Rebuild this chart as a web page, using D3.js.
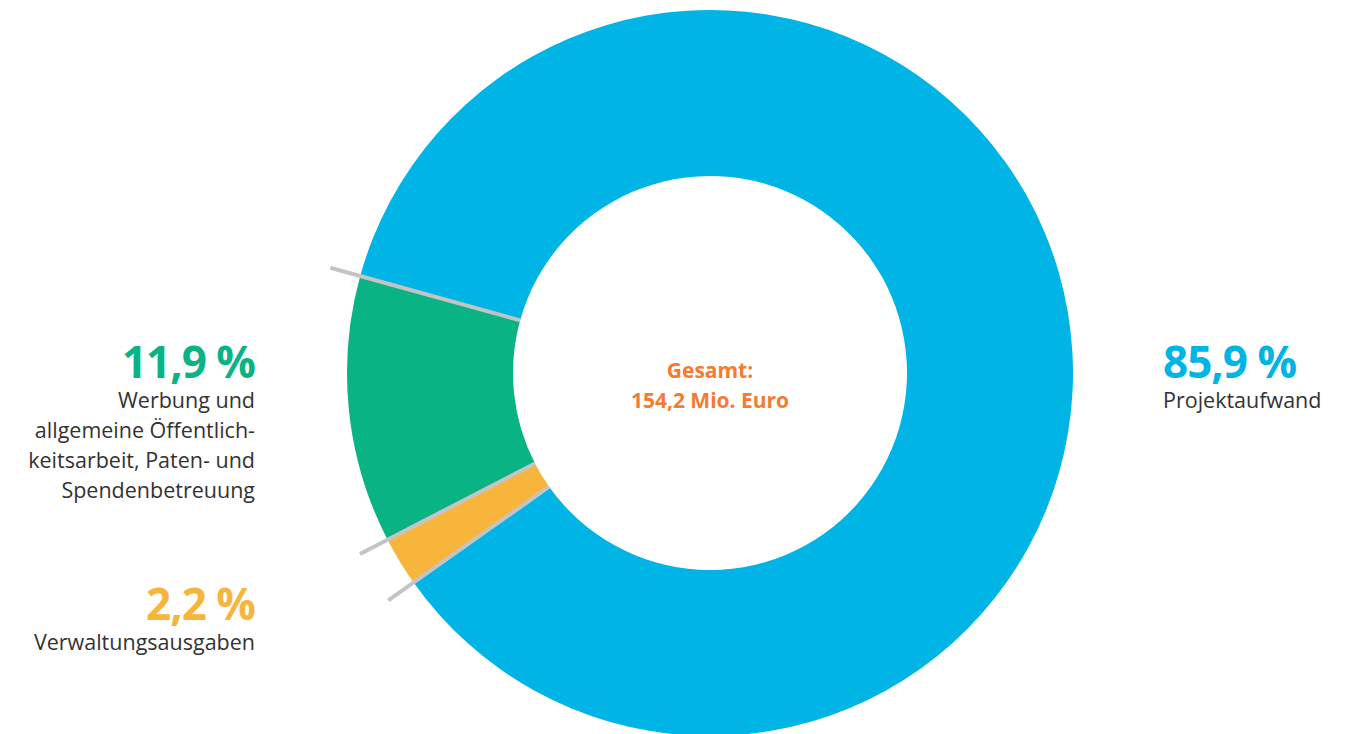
<!DOCTYPE html>
<html>
<head>
<meta charset="utf-8">
<script src="https://cdn.jsdelivr.net/npm/d3@7"></script>
<style>
	body { margin: 0; background: #fff; }
	svg { display: block; font-family: "Open Sans", "Noto Sans", sans-serif; }
</style>
</head>
<body>
<div id="chart"></div>
<script>
// data
const categories = ['Projektaufwand', 'Verwaltungsausgaben', 'Werbung und allgemeine Öffentlichkeitsarbeit, Paten- und Spendenbetreuung'];
const values = [85.9, 2.2, 11.9];
const percentLabels = ['85,9 %', '2,2 %', '11,9 %'];
const descLines = [
	['Projektaufwand'],
	['Verwaltungsausgaben'],
	['Werbung und', 'allgemeine Öffentlich-', 'keitsarbeit, Paten- und', 'Spendenbetreuung']
];
const sliceColors = ['#00b4e6', '#f7b53b', '#0ab384'];
const centerLines = ['Gesamt:', '154,2 Mio. Euro'];

const width = 1360;
const height = 734;
const cx = 710, cy = 373;
const outerR = 363, innerR = 197;
const startDeg = -74.5;

const svg = d3.select('#chart')
	.append('svg')
	.attr('width', width)
	.attr('height', height);

const pie = d3.pie()
	.sort(null)
	.startAngle(startDeg * Math.PI / 180)
	.endAngle(startDeg * Math.PI / 180 + 2 * Math.PI);

const arcs = pie(values);

const arc = d3.arc()
	.innerRadius(innerR)
	.outerRadius(outerR);

const g = svg.append('g').attr('transform', `translate(${cx},${cy})`);

g.selectAll('path.slice')
	.data(arcs)
	.join('path')
	.attr('class', 'slice')
	.attr('d', arc)
	.attr('fill', (d, i) => sliceColors[i]);

// gray separators at each slice start
const lineOuter = 394;
g.selectAll('line.sep')
	.data(arcs)
	.join('line')
	.attr('class', 'sep')
	.attr('x1', d => Math.sin(d.startAngle) * innerR)
	.attr('y1', d => -Math.cos(d.startAngle) * innerR)
	.attr('x2', d => Math.sin(d.startAngle) * lineOuter)
	.attr('y2', d => -Math.cos(d.startAngle) * lineOuter)
	.attr('stroke', '#c4c4c4')
	.attr('stroke-width', 4);

// center text
g.selectAll('text.center')
	.data(centerLines)
	.join('text')
	.attr('class', 'center')
	.attr('x', 0)
	.attr('y', (d, i) => 5 + i * 30)
	.attr('text-anchor', 'middle')
	.attr('fill', '#f47b2f')
	.attr('font-weight', 'bold')
	.attr('font-size', 21)
	.text(d => d);

// labels
const labelPos = [
	{x: 1163, y: 378, anchor: 'start'},
	{x: 255, y: 620, anchor: 'end'},
	{x: 255, y: 378, anchor: 'end'}
];

labelPos.forEach((p, i) => {
	svg.append('text')
		.attr('x', p.x)
		.attr('y', p.y)
		.attr('text-anchor', p.anchor)
		.attr('fill', sliceColors[i])
		.attr('font-weight', 'bold')
		.attr('font-size', 44)
		.attr('letter-spacing', -1)
		.text(percentLabels[i]);

	descLines[i].forEach((line, j) => {
		svg.append('text')
			.attr('x', p.x)
			.attr('y', p.y + 30 + j * 30)
			.attr('text-anchor', p.anchor)
			.attr('fill', '#333')
			.attr('font-size', 21.5)
			.text(line);
	});
});
</script>
</body>
</html>
